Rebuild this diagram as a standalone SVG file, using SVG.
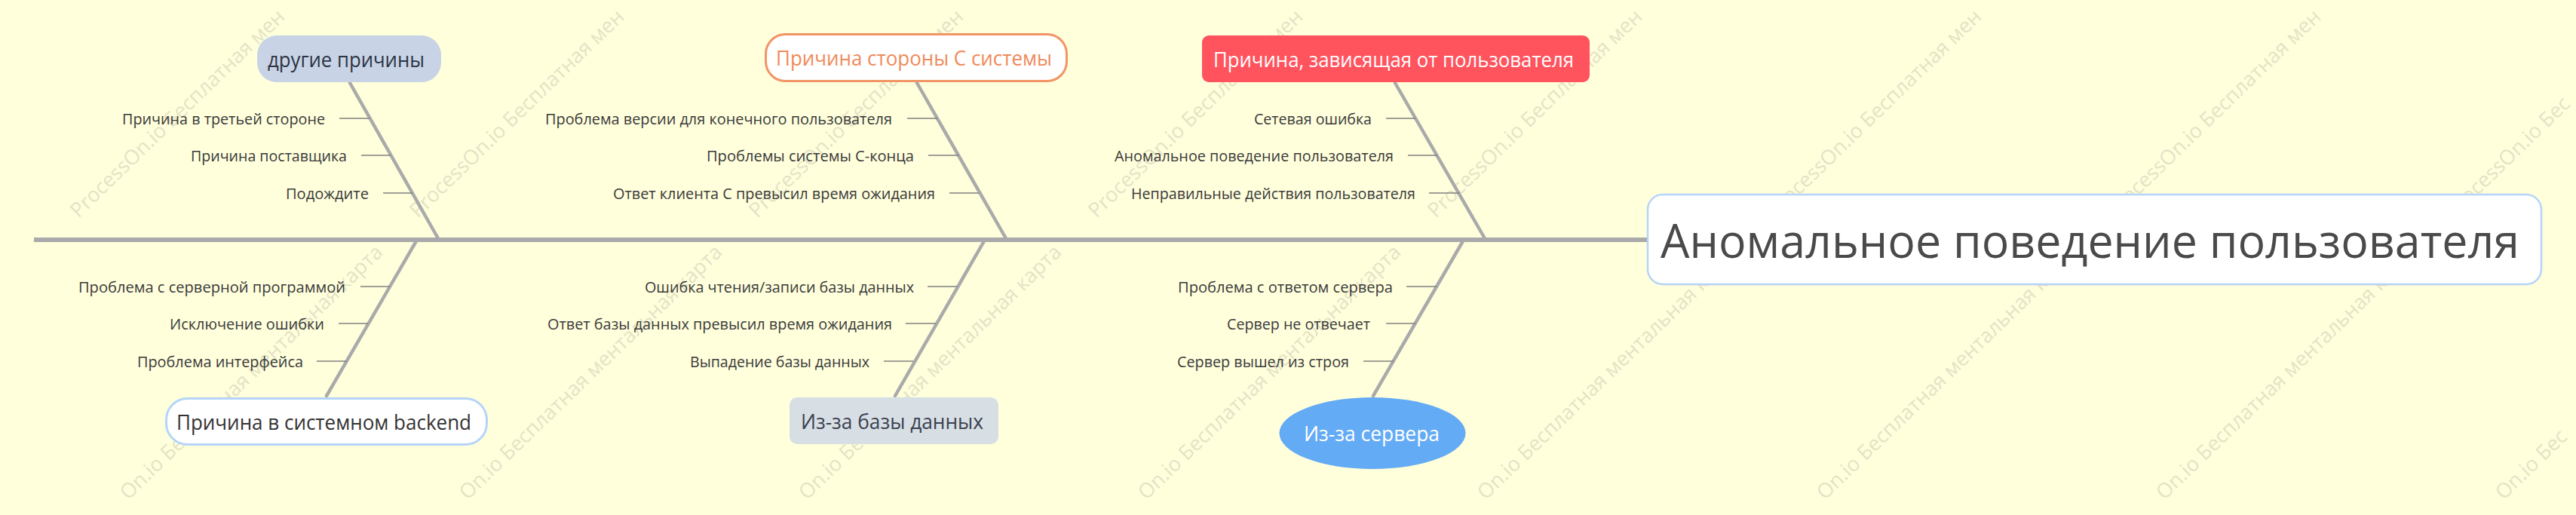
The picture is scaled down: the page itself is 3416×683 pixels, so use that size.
<svg xmlns="http://www.w3.org/2000/svg" width="3416" height="683" viewBox="0 0 3416 683">
<defs>
<style>
.bg{fill:#ffffdc}
.wm{font-family:"Open Sans","Noto Sans",sans-serif;font-size:27px;fill:#e4e3c6}
.spine{stroke:#aaaaaa;stroke-width:6;fill:none}
.bone{stroke:#aaaaaa;stroke-width:4.5;stroke-linecap:round;fill:none}
.tick{stroke:#808080;stroke-width:1.5;fill:none}
.lbl{font-family:"Open Sans","Noto Sans",sans-serif;font-size:20px;fill:#3a3a3a}
.cat{font-family:"Open Sans","Noto Sans",sans-serif;font-size:27px}
.main{font-family:"Open Sans","Noto Sans",sans-serif;font-size:62px;fill:#4a4a4a}
</style>
</defs>
<rect class="bg" x="0" y="0" width="3416" height="683"/>
<g id="watermark">
<text class="wm" transform="translate(104,290) rotate(-44)">ProcessOn.io Бесплатная мен</text>
<text class="wm" transform="translate(554,290) rotate(-44)">ProcessOn.io Бесплатная мен</text>
<text class="wm" transform="translate(1004,290) rotate(-44)">ProcessOn.io Бесплатная мен</text>
<text class="wm" transform="translate(1454,290) rotate(-44)">ProcessOn.io Бесплатная мен</text>
<text class="wm" transform="translate(1904,290) rotate(-44)">ProcessOn.io Бесплатная мен</text>
<text class="wm" transform="translate(2354,290) rotate(-44)">ProcessOn.io Бесплатная мен</text>
<text class="wm" transform="translate(2804,290) rotate(-44)">ProcessOn.io Бесплатная мен</text>
<text class="wm" transform="translate(3254,290) rotate(-44)">ProcessOn.io Бес</text>
<text class="wm" transform="translate(170,664) rotate(-44)">On.io Бесплатная ментальная карта</text>
<text class="wm" transform="translate(620,664) rotate(-44)">On.io Бесплатная ментальная карта</text>
<text class="wm" transform="translate(1070,664) rotate(-44)">On.io Бесплатная ментальная карта</text>
<text class="wm" transform="translate(1520,664) rotate(-44)">On.io Бесплатная ментальная карта</text>
<text class="wm" transform="translate(1970,664) rotate(-44)">On.io Бесплатная ментальная карта</text>
<text class="wm" transform="translate(2420,664) rotate(-44)">On.io Бесплатная ментальная карта</text>
<text class="wm" transform="translate(2870,664) rotate(-44)">On.io Бесплатная ментальная карта</text>
<text class="wm" transform="translate(3320,664) rotate(-44)">On.io Бес</text>
</g>
<g id="connectors">
<line class="spine" x1="45" y1="318" x2="2184" y2="318"/>
<line class="bone" x1="464" y1="110" x2="582" y2="318"/>
<line class="bone" x1="1216" y1="110" x2="1335" y2="318"/>
<line class="bone" x1="1850" y1="110" x2="1970" y2="318"/>
<line class="bone" x1="553" y1="318" x2="433" y2="525"/>
<line class="bone" x1="1306" y1="318" x2="1187" y2="525"/>
<line class="bone" x1="1941" y1="318" x2="1821" y2="525"/>
<line class="tick" x1="450" y1="157" x2="490" y2="157"/>
<line class="tick" x1="479" y1="206" x2="518" y2="206"/>
<line class="tick" x1="508" y1="256" x2="547" y2="256"/>
<line class="tick" x1="1203" y1="157" x2="1243" y2="157"/>
<line class="tick" x1="1231" y1="206" x2="1271" y2="206"/>
<line class="tick" x1="1259" y1="256" x2="1298" y2="256"/>
<line class="tick" x1="1838" y1="157" x2="1877" y2="157"/>
<line class="tick" x1="1867" y1="206" x2="1906" y2="206"/>
<line class="tick" x1="1895" y1="256" x2="1935" y2="256"/>
<line class="tick" x1="478" y1="380" x2="517" y2="380"/>
<line class="tick" x1="449" y1="429" x2="488" y2="429"/>
<line class="tick" x1="420" y1="479" x2="460" y2="479"/>
<line class="tick" x1="1230" y1="380" x2="1269" y2="380"/>
<line class="tick" x1="1201" y1="429" x2="1241" y2="429"/>
<line class="tick" x1="1172" y1="479" x2="1211" y2="479"/>
<line class="tick" x1="1865" y1="380" x2="1905" y2="380"/>
<line class="tick" x1="1838" y1="429" x2="1877" y2="429"/>
<line class="tick" x1="1808" y1="479" x2="1848" y2="479"/>
</g>
<g id="main">
<rect x="2185" y="258" width="1185" height="119" rx="20" fill="#ffffff" stroke="#b5d4f8" stroke-width="2.5"/>
<text class="main" x="2202" y="342" textLength="1139" lengthAdjust="spacingAndGlyphs">Аномальное поведение пользователя</text>
</g>
<g id="cat-other">
<rect x="341" y="47" width="244" height="62" rx="26" fill="#c8d4e6"/>
<text class="cat" x="355" y="89" fill="#2c3444" font-size="28" textLength="208" lengthAdjust="spacingAndGlyphs">другие причины</text>
</g>
<g id="cat-c-side">
<rect x="1015.5" y="45.5" width="399" height="62" rx="26" fill="#ffffff" stroke="#f29465" stroke-width="3"/>
<text class="cat" x="1029" y="87" fill="#f08a5a" textLength="366" lengthAdjust="spacingAndGlyphs">Причина стороны С системы</text>
</g>
<g id="cat-user">
<rect x="1594" y="47" width="514" height="62" rx="9" fill="#ff535e"/>
<text class="cat" x="1609" y="89" fill="#ffffff" textLength="478" lengthAdjust="spacingAndGlyphs">Причина, зависящая от пользователя</text>
</g>
<g id="cat-backend">
<rect x="220.5" y="528.5" width="425" height="61" rx="28" fill="#ffffff" stroke="#b5d4fa" stroke-width="3"/>
<text class="cat" x="234" y="570" fill="#333333" textLength="391" lengthAdjust="spacingAndGlyphs">Причина в системном backend</text>
</g>
<g id="cat-db">
<rect x="1047" y="527" width="277" height="62" rx="10" fill="#d8dfe4"/>
<text class="cat" x="1062" y="569" fill="#3a4150" textLength="242" lengthAdjust="spacingAndGlyphs">Из-за базы данных</text>
</g>
<g id="cat-server">
<ellipse cx="1820" cy="574.5" rx="123.5" ry="47.5" fill="#64abf5"/>
<text class="cat" x="1729" y="585" fill="#ffffff" textLength="180" lengthAdjust="spacingAndGlyphs">Из-за сервера</text>
</g>
<g id="sub-other">
<text class="lbl" x="162" y="165" textLength="269" lengthAdjust="spacingAndGlyphs">Причина в третьей стороне</text>
<text class="lbl" x="253" y="214" textLength="207" lengthAdjust="spacingAndGlyphs">Причина поставщика</text>
<text class="lbl" x="379" y="264" textLength="110" lengthAdjust="spacingAndGlyphs">Подождите</text>
</g>
<g id="sub-c-side">
<text class="lbl" x="723" y="165" textLength="460" lengthAdjust="spacingAndGlyphs">Проблема версии для конечного пользователя</text>
<text class="lbl" x="937" y="214" textLength="275" lengthAdjust="spacingAndGlyphs">Проблемы системы С-конца</text>
<text class="lbl" x="813" y="264" textLength="427" lengthAdjust="spacingAndGlyphs">Ответ клиента С превысил время ожидания</text>
</g>
<g id="sub-user">
<text class="lbl" x="1663" y="165" textLength="156" lengthAdjust="spacingAndGlyphs">Сетевая ошибка</text>
<text class="lbl" x="1478" y="214" textLength="370" lengthAdjust="spacingAndGlyphs">Аномальное поведение пользователя</text>
<text class="lbl" x="1500" y="264" textLength="377" lengthAdjust="spacingAndGlyphs">Неправильные действия пользователя</text>
</g>
<g id="sub-backend">
<text class="lbl" x="104" y="388" textLength="354" lengthAdjust="spacingAndGlyphs">Проблема с серверной программой</text>
<text class="lbl" x="225" y="437" textLength="205" lengthAdjust="spacingAndGlyphs">Исключение ошибки</text>
<text class="lbl" x="182" y="487" textLength="220" lengthAdjust="spacingAndGlyphs">Проблема интерфейса</text>
</g>
<g id="sub-db">
<text class="lbl" x="855" y="388" textLength="357" lengthAdjust="spacingAndGlyphs">Ошибка чтения/записи базы данных</text>
<text class="lbl" x="726" y="437" textLength="457" lengthAdjust="spacingAndGlyphs">Ответ базы данных превысил время ожидания</text>
<text class="lbl" x="915" y="487" textLength="238" lengthAdjust="spacingAndGlyphs">Выпадение базы данных</text>
</g>
<g id="sub-server">
<text class="lbl" x="1562" y="388" textLength="285" lengthAdjust="spacingAndGlyphs">Проблема с ответом сервера</text>
<text class="lbl" x="1627" y="437" textLength="190" lengthAdjust="spacingAndGlyphs">Сервер не отвечает</text>
<text class="lbl" x="1561" y="487" textLength="228" lengthAdjust="spacingAndGlyphs">Сервер вышел из строя</text>
</g>
</svg>
